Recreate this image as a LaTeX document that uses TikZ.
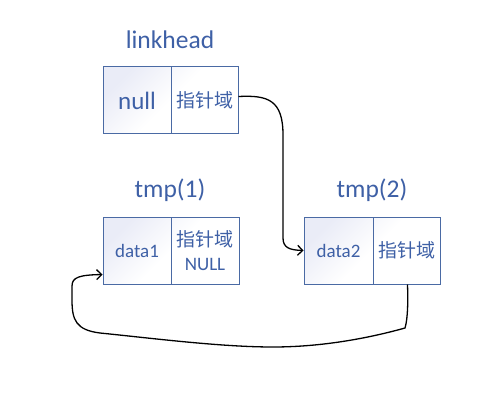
\documentclass[tikz,border=0pt]{standalone}
\usepackage{fontspec}
\setmainfont{Carlito}
\newfontfamily\cjk{Noto Sans CJK SC}
\usetikzlibrary{arrows.meta}
\definecolor{txtblue}{RGB}{62,96,166}
\definecolor{boxblue}{RGB}{74,106,164}
\definecolor{lav}{RGB}{234,236,247}
\tikzset{
  cell/.style={draw=boxblue, line width=1pt, minimum height=67pt, inner sep=0pt, text=txtblue, font=\fontsize{19}{22}\selectfont},
  title/.style={text=txtblue, font=\fontsize{25.5}{28}\selectfont, inner sep=0pt},
  boxshade/.style={shading=axis, top color=lav, bottom color=white, middle color=white, shading angle=45},
  link/.style={draw=black, line width=1.3pt, -{Straight Barb[length=5pt,width=10pt,line width=1.3pt]}}
}
\begin{document}
\begin{tikzpicture}[x=1pt,y=-1pt]
\useasboundingbox (0,0) rectangle (502,403);
\fill[white] (0,0) rectangle (502,403);
% shaded backgrounds
\shade[boxshade] (103,67) rectangle (238,134);
\shade[boxshade] (103,217) rectangle (239,284);
\shade[boxshade] (304,217) rectangle (440,284);
% linkhead
\node[title, anchor=base] (lhtitle) at (170,49) {linkhead};
\node[cell, minimum width=68pt, font=\fontsize{25}{28}\selectfont] (lha) at (137,100.5) {null};
\node[cell, minimum width=67pt] (lhb) at (204.5,100.5) {\cjk 指针域};
% tmp(1)
\node[title, anchor=base] (t1title) at (170,197) {tmp(1)};
\node[cell, minimum width=68pt] (t1a) at (137,250.5) {data1};
\node[cell, minimum width=68pt, align=center, font=\fontsize{19}{24}\selectfont] (t1b) at (205,250.5) {{\cjk 指针域}\\NULL};
% tmp(2)
\node[title, anchor=base] (t2title) at (372,197) {tmp(2)};
\node[cell, minimum width=69pt] (t2a) at (338.5,250.5) {data2};
\node[cell, minimum width=67pt] (t2b) at (406.5,250.5) {\cjk 指针域};
% connectors
\draw[link] ([yshift=4pt]lhb.east) .. controls (268,95) and (283,100) .. (283,135)
  -- (283,238) .. controls (283,248) and (290,250) .. (t2a.west);
\draw[link] ([xshift=1pt]t2b.south) .. controls (408,300) and (408,318) .. (405,328)
  .. controls (380,335) and (330,347) .. (273,347)
  .. controls (220,347) and (150,338) .. (100,333)
  .. controls (76,330) and (72,320) .. (72,300)
  -- (72,286) .. controls (72,277) and (80,275) .. ([yshift=10pt]t1a.south west);
\end{tikzpicture}
\end{document}
